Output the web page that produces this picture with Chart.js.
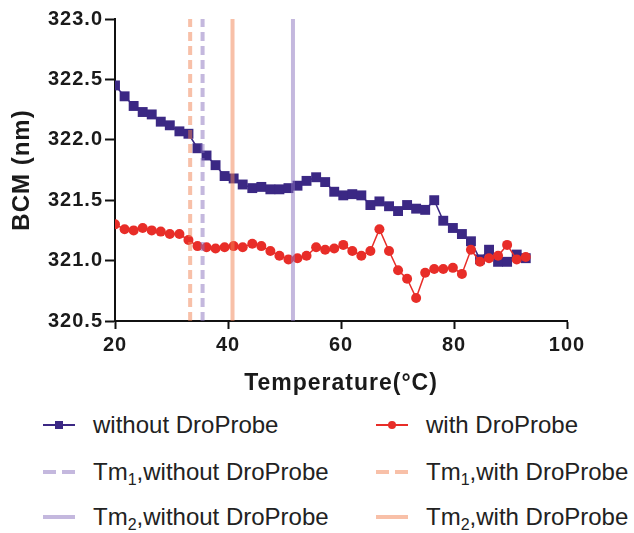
<!DOCTYPE html>
<html>
<head>
<meta charset="utf-8">
<script src="https://cdn.jsdelivr.net/npm/chart.js@4/dist/chart.umd.min.js"></script>
<style>
  body { margin: 0; background: #fff; width: 634px; height: 533px; overflow: hidden; position: relative; }
  #wrap { position: absolute; left: 0; top: 0; width: 634px; height: 400px; }
  .item { position: absolute; height: 30px; display: flex; align-items: center;
          font-family: Arial, 'Liberation Sans', sans-serif; font-size: 24px; color: #222; white-space: nowrap; }
  .item svg { margin-right: 18px; }
  .item sub { font-size: 16px; vertical-align: -5px; line-height: 0; }
</style>
</head>
<body>
<div id="wrap"><canvas id="bcm-chart"></canvas></div>
<div id="legend"></div>
<script>
// Temperature (°C) of each reading, shared by both series
const temperatures = [20.0, 21.7, 23.3, 24.9, 26.5, 28.1, 29.7, 31.4, 33.0, 34.6,
    36.2, 37.8, 39.4, 41.0, 42.6, 44.3, 45.9, 47.5, 49.1, 50.7,
    52.3, 53.9, 55.6, 57.2, 58.8, 60.4, 62.0, 63.6, 65.2, 66.8,
    68.5, 70.1, 71.7, 73.3, 74.9, 76.5, 78.1, 79.8, 81.4, 83.0,
    84.6, 86.2, 87.8, 89.4, 91.1, 92.7];

// BCM (nm)
const withoutProbe = [322.45, 322.36, 322.28, 322.23, 322.21, 322.15, 322.12, 322.07, 322.05, 321.93,
    321.87, 321.79, 321.70, 321.68, 321.63, 321.60, 321.61, 321.59, 321.59, 321.60,
    321.62, 321.66, 321.69, 321.65, 321.57, 321.54, 321.55, 321.54, 321.46, 321.49,
    321.45, 321.41, 321.46, 321.43, 321.42, 321.50, 321.33, 321.27, 321.22, 321.16,
    321.01, 321.09, 320.99, 320.99, 321.05, 321.02];

const withProbe = [321.30, 321.26, 321.25, 321.27, 321.25, 321.24, 321.22, 321.22, 321.17, 321.12,
    321.11, 321.10, 321.11, 321.12, 321.11, 321.14, 321.12, 321.08, 321.04, 321.01,
    321.02, 321.04, 321.11, 321.09, 321.10, 321.13, 321.08, 321.04, 321.08, 321.26,
    321.08, 320.92, 320.85, 320.69, 320.90, 320.93, 320.93, 320.94, 320.89, 321.09,
    320.99, 321.02, 321.04, 321.13, 321.01, 321.03];

// melting temperatures (°C)
const tm1Without = 35.5;
const tm1With = 33.3;
const tm2Without = 51.5;
const tm2With = 40.8;

const yTicks = [320.5, 321.0, 321.5, 322.0, 322.5, 323.0];
const xTicks = [20, 40, 60, 80, 100];

const labels = ['without DroProbe', 'with DroProbe',
    'Tm<sub>1</sub>,without DroProbe', 'Tm<sub>1</sub>,with DroProbe',
    'Tm<sub>2</sub>,without DroProbe', 'Tm<sub>2</sub>,with DroProbe'];

const purple = 'rgb(59, 40, 132)';
const red = 'rgb(232, 45, 40)';
const lavender = 'rgba(137, 113, 189, 0.5)';
const peach = 'rgba(241, 129, 81, 0.5)';

const toPoints = (values) => values.map((v, i) => ({ x: temperatures[i], y: v }));
const vline = (t) => [{ x: t, y: yTicks[0] }, { x: t, y: yTicks[yTicks.length - 1] }];

const fontFamily = "Arial, 'Liberation Sans', sans-serif";
const tickFont = { family: fontFamily, size: 20, weight: 'bold' };

const datasets = [
    {
        label: labels[0], data: toPoints(withoutProbe), order: 2,
        borderColor: purple, backgroundColor: purple, borderWidth: 1.5,
        pointStyle: 'rect', pointRadius: 7, pointBorderWidth: 0, showLine: true,
    },
    {
        label: labels[1], data: toPoints(withProbe), order: 1,
        borderColor: red, backgroundColor: red, borderWidth: 1.5,
        pointStyle: 'circle', pointRadius: 5, pointBorderWidth: 0, showLine: true,
    },
    {
        label: labels[2], data: vline(tm1Without), order: 0,
        borderColor: lavender, borderWidth: 4, borderDash: [9, 5], pointRadius: 0, showLine: true,
    },
    {
        label: labels[3], data: vline(tm1With), order: 0,
        borderColor: peach, borderWidth: 4, borderDash: [9, 5], pointRadius: 0, showLine: true,
    },
    {
        label: labels[4], data: vline(tm2Without), order: 0,
        borderColor: lavender, borderWidth: 4, pointRadius: 0, showLine: true,
    },
    {
        label: labels[5], data: vline(tm2With), order: 0,
        borderColor: peach, borderWidth: 4, pointRadius: 0, showLine: true,
    },
];

// the original lettering is a little wider than Arial
const spacing = {
    id: 'spacing',
    beforeDraw: (chart) => { chart.ctx.letterSpacing = '1px'; },
};

const ctx = document.getElementById('bcm-chart').getContext('2d');
const chart = new Chart(ctx, {
    type: 'scatter',
    data: { datasets: datasets },
    plugins: [spacing],
    options: {
        responsive: true,
        maintainAspectRatio: false,
        animation: false,
        layout: { padding: { top: 19, right: 67, left: 0, bottom: 0 } },
        plugins: { legend: { display: false }, tooltip: { enabled: false } },
        scales: {
            x: {
                type: 'linear', min: 20, max: 100,
                afterBuildTicks: (scale) => { scale.ticks = xTicks.map(v => ({ value: v })); },
                afterFit: (scale) => { scale.height = 79; },
                ticks: { color: '#1a1a1a', font: tickFont, padding: 4 },
                grid: { drawOnChartArea: false, tickLength: 8, tickColor: '#111', tickWidth: 2 },
                border: { color: '#111', width: 2 },
                title: { display: true, text: 'Temperature(°C)', color: '#1a1a1a',
                         font: { family: fontFamily, size: 23, weight: 'bold' }, padding: { top: 0, bottom: 3 } },
            },
            y: {
                type: 'linear', min: 320.5, max: 323,
                afterBuildTicks: (scale) => { scale.ticks = yTicks.map(v => ({ value: v })); },
                afterFit: (scale) => { scale.width = 115; },
                ticks: { color: '#1a1a1a', font: tickFont, padding: 2, callback: (v) => v.toFixed(1) },
                grid: { drawOnChartArea: false, tickLength: 10, tickColor: '#111', tickWidth: 2 },
                border: { color: '#111', width: 2 },
                title: { display: true, text: 'BCM (nm)', color: '#1a1a1a',
                         font: { family: fontFamily, size: 24, weight: 'bold' }, padding: { top: 8, bottom: 0 } },
            },
        },
    },
});

// HTML legend, two columns
function swatch(ds) {
    const c = ds.borderColor;
    let s = '<svg width="32" height="14">';
    if (ds.pointRadius > 0) {
        s += `<line x1="0" y1="7" x2="32" y2="7" stroke="${c}" stroke-width="2"/>`;
        if (ds.pointStyle === 'rect') s += `<rect x="12" y="3" width="8" height="8" fill="${c}"/>`;
        else s += `<circle cx="16" cy="7" r="4" fill="${c}"/>`;
    } else if (ds.borderDash) {
        s += `<line x1="0" y1="7" x2="32" y2="7" stroke="${c}" stroke-width="4" stroke-dasharray="13 6"/>`;
    } else {
        s += `<line x1="0" y1="7" x2="32" y2="7" stroke="${c}" stroke-width="4"/>`;
    }
    return s + '</svg>';
}

const legendEl = document.getElementById('legend');
const colX = [43, 376];
const rowY = [410, 457, 502];
chart.data.datasets.forEach((ds, i) => {
    const el = document.createElement('div');
    el.className = 'item';
    el.style.left = colX[i % 2] + 'px';
    el.style.top = rowY[Math.floor(i / 2)] + 'px';
    el.innerHTML = swatch(ds) + '<span>' + ds.label + '</span>';
    legendEl.appendChild(el);
});
</script>
</body>
</html>
